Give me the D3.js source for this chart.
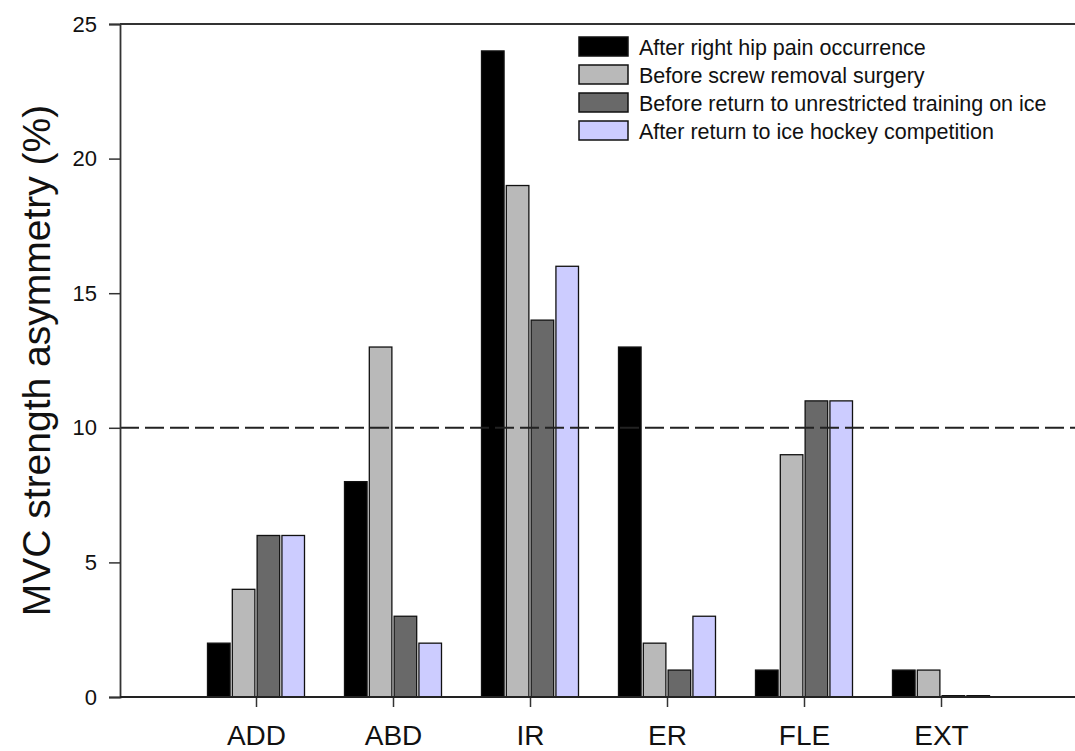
<!DOCTYPE html>
<html>
<head>
<meta charset="utf-8">
<script src="https://cdn.jsdelivr.net/npm/d3@7"></script>
<style>
  body { margin: 0; background: #fff; }
  svg { font-family: "Liberation Sans", Arial, sans-serif; }
</style>
</head>
<body>
<div id="chart"></div>
<script>
/** Data */
const categories = ["ADD", "ABD", "IR", "ER", "FLE", "EXT"];
const seriesNames = [
  "After right hip pain occurrence",
  "Before screw removal surgery",
  "Before return to unrestricted training on ice",
  "After return to ice hockey competition"
];
const afterPain = [2, 8, 24, 13, 1, 1];
const beforeRemoval = [4, 13, 19, 2, 9, 1];
const beforeReturn = [6, 3, 14, 1, 11, 0.05];
const afterReturn = [6, 2, 16, 3, 11, 0.05];
const yTicks = [0, 5, 10, 15, 20, 25];
const threshold = 10;

const seriesValues = [afterPain, beforeRemoval, beforeReturn, afterReturn];
const colors = ["#000000", "#b9b9b9", "#696969", "#ccccff"];

/** Graph configs */
const width = 1075;
const height = 751;
const margin = { top: 24, right: -10, bottom: 54, left: 120 };

const svg = d3
  .select("#chart")
  .append("svg")
  .attr("width", width)
  .attr("height", height);

const y = d3
  .scaleLinear()
  .domain([0, 25])
  .range([height - margin.bottom, margin.top]);

// category centres sit on a point scale, the frame runs past the right edge
const x = d3.scalePoint().domain(categories).range([256, 941]);

const inner = d3
  .scaleBand()
  .domain(d3.range(seriesNames.length))
  .range([-48.5, 48.5])
  .paddingInner(0.09);

// bars
categories.forEach((cat, ci) => {
  svg
    .append("g")
    .selectAll("rect")
    .data(seriesValues.map((vals, si) => ({ si, v: vals[ci] })))
    .enter()
    .append("rect")
    .attr("x", (d) => x(cat) + inner(d.si))
    .attr("width", inner.bandwidth())
    .attr("y", (d) => y(d.v))
    .attr("height", (d) => y(0) - y(d.v))
    .attr("fill", (d) => colors[d.si])
    .attr("stroke", "#111")
    .attr("stroke-width", 1.3);
});

// threshold line
svg
  .append("line")
  .attr("x1", margin.left)
  .attr("x2", width - margin.right)
  .attr("y1", y(threshold))
  .attr("y2", y(threshold))
  .attr("stroke", "#222")
  .attr("stroke-width", 2)
  .attr("stroke-dasharray", "19,6");

// frame lines
svg
  .append("line")
  .attr("x1", margin.left)
  .attr("x2", width - margin.right)
  .attr("y1", y(25))
  .attr("y2", y(25))
  .attr("stroke", "#333")
  .attr("stroke-width", 1.8);

// y axis
const yAxis = svg
  .append("g")
  .attr("transform", `translate(${margin.left},0)`)
  .call(d3.axisLeft(y).tickValues(yTicks).tickSize(11).tickPadding(12));
yAxis.select(".domain").attr("stroke", "#333").attr("stroke-width", 1.8);
yAxis.selectAll(".tick line").attr("stroke", "#333").attr("stroke-width", 1.5);
yAxis.selectAll("text").attr("font-size", 22).attr("fill", "#111");

// x axis
const xAxis = svg
  .append("g")
  .attr("transform", `translate(0,${y(0)})`)
  .call(d3.axisBottom(x).tickSize(10).tickPadding(18));
xAxis.select(".domain").remove();
xAxis.selectAll(".tick line").attr("stroke", "#333").attr("stroke-width", 1.5);
xAxis.selectAll("text").attr("font-size", 28).attr("fill", "#111");

svg
  .append("line")
  .attr("x1", margin.left)
  .attr("x2", width - margin.right)
  .attr("y1", y(0))
  .attr("y2", y(0))
  .attr("stroke", "#222")
  .attr("stroke-width", 2)
;

// y axis title
svg
  .append("text")
  .attr("transform", `translate(50,${(y(0) + y(25)) / 2}) rotate(-90)`)
  .attr("text-anchor", "middle")
  .attr("font-size", 39)
  .attr("fill", "#111")
  .text("MVC strength asymmetry (%)");

// legend
const legend = svg
  .append("g")
  .selectAll("g")
  .data(seriesNames)
  .enter()
  .append("g")
  .attr("transform", (d, i) => `translate(579,${37 + i * 28})`);

legend
  .append("rect")
  .attr("width", 49)
  .attr("height", 19)
  .attr("fill", (d, i) => colors[i])
  .attr("stroke", "#111")
  .attr("stroke-width", 1.5);

legend
  .append("text")
  .attr("x", 60)
  .attr("y", 10)
  .attr("dy", "0.35em")
  .attr("font-size", 21.5)
  .attr("fill", "#111")
  .text((d) => d);
</script>
</body>
</html>
